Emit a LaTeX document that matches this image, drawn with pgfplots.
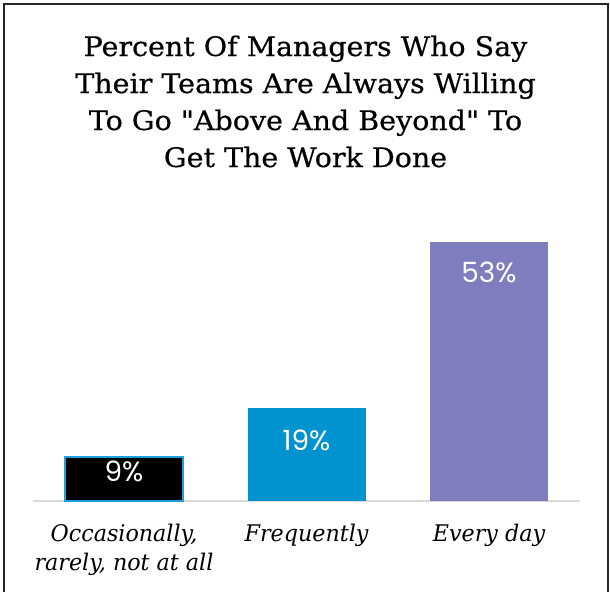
\documentclass[border=0pt]{standalone}
\usepackage{fontspec}
\usepackage{pgfplots}
\pgfplotsset{compat=1.18}
\setmainfont{DejaVu Serif}
\newfontfamily\titlefont[FakeStretch=1.06, FakeBold=0.6]{DejaVu Serif}
\newfontfamily\labfont[FakeStretch=0.97]{DejaVu Serif}
\newfontfamily\valfont{Poppins}
\definecolor{barblue}{HTML}{0093D0}
\definecolor{barpurple}{HTML}{7E7EBE}
\definecolor{edgeblue}{HTML}{1AA0DC}
\definecolor{basegray}{HTML}{D9D9D9}
\begin{document}
\begin{tikzpicture}
\useasboundingbox (0,0) rectangle (610bp,-592bp);
\draw[black!85, line width=2bp] (4bp,-600bp) -- (4bp,-4bp) -- (608bp,-4bp) -- (608bp,-600bp);
\begin{scope}[every node/.style={font=\titlefont\fontsize{27}{37}\selectfont, anchor=base, inner sep=0pt}]
\node at (305.5bp,-56bp) {Percent Of Managers Who Say};
\node at (305.5bp,-93bp) {Their Teams Are Always Willing};
\node at (305.5bp,-130bp) {To Go "Above And Beyond" To};
\node at (305.5bp,-167bp) {Get The Work Done};
\end{scope}
\begin{axis}[
  at={(32.75bp,-501bp)}, anchor=south west,
  scale only axis, width=547.5bp, height=293.4bp,
  xmin=-0.5, xmax=2.5, ymin=0, ymax=60,
  enlargelimits=false,
  axis x line=bottom, axis y line=none,
  x axis line style={draw=basegray, line width=2bp, -},
  xtick={0,1,2},
  xticklabels={{Occasionally,\\rarely, not at all}, Frequently, Every day},
  xtick style={draw=none},
  major tick length=0pt,
  xticklabel style={font=\labfont\itshape\fontsize{23}{29}\selectfont, align=center, anchor=north, inner sep=0pt, yshift=-23bp},
  ytick=\empty,
  /pgf/number format/assume math mode=true,
  ybar, bar width=118bp, bar shift=0pt,
  nodes near coords={\pgfmathprintnumber{\pgfplotspointmeta}\%},
  every node near coord/.append style={font=\valfont\fontsize{28}{28}\selectfont, text=white, anchor=base, inner sep=0pt},
]
\addplot[fill=black, draw=edgeblue, line width=1.5bp, every node near coord/.append style={yshift=-25bp}] coordinates {(0,9)};
\addplot[fill=barblue, draw=none, every node near coord/.append style={yshift=-42bp}] coordinates {(1,19)};
\addplot[fill=barpurple, draw=none, every node near coord/.append style={yshift=-41bp}] coordinates {(2,53)};
\end{axis}
\end{tikzpicture}
\end{document}
